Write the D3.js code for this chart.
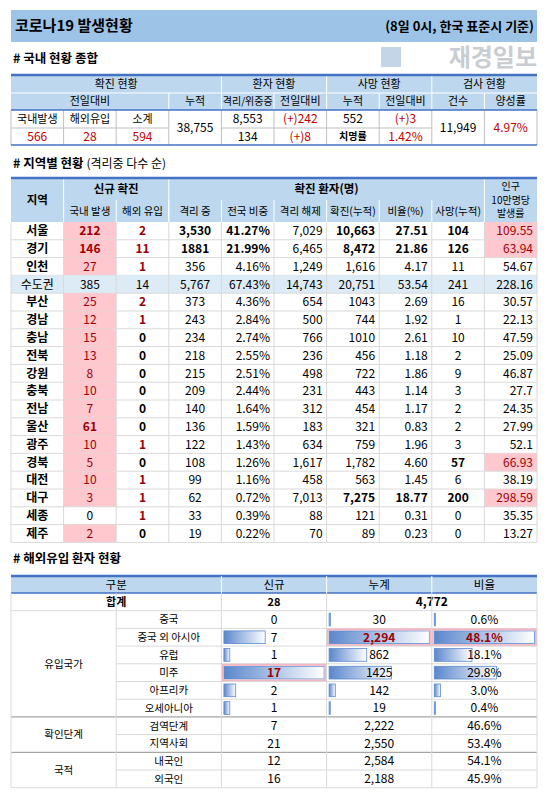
<!DOCTYPE html>
<html><head><meta charset="utf-8">
<script src="https://cdn.jsdelivr.net/npm/d3@7"></script>
<style>body{margin:0;background:#fff}svg{display:block}text{font-family:"Noto Sans CJK KR","Noto Sans",sans-serif}</style>
</head><body><svg id="c" width="548" height="802"></svg>
<script>
// ---- data ----
const summaryHeaders = ["확진 현황","환자 현황","사망 현황","검사 현황"];
const summaryLabels = ["국내발생","해외유입","소계"];
const summaryNew = [566, 28, 594];
const summaryCum = "38,755";
const patients = ["8,553","(+)242","134","(+)8"];
const deathsSum = ["552","(+)3","1.42%"];
const tests = ["11,949","4.97%"];

const regions = ["서울","경기","인천","수도권","부산","경남","충남","전북","강원","충북","전남","울산","광주","경북","대전","대구","세종","제주"];
const local = [212,146,27,385,25,12,15,13,8,10,7,61,10,5,10,3,0,2];
const imported = [2,11,1,14,2,1,0,0,0,0,0,0,1,0,1,1,1,0];
const isolated = ["3,530","1881","356","5,767","373","243","234","218","215","209","140","136","122","108","99","62","33","19"];
const share = ["41.27%","21.99%","4.16%","67.43%","4.36%","2.84%","2.74%","2.55%","2.51%","2.44%","1.64%","1.59%","1.43%","1.26%","1.16%","0.72%","0.39%","0.22%"];
const released = ["7,029","6,465","1,249","14,743","654","500","766","236","498","231","312","183","634","1,617","458","7,013","88","70"];
const cumulative = ["10,663","8,472","1,616","20,751","1043","744","1010","456","722","443","454","321","759","1,782","563","7,275","121","89"];
const ratio = ["27.51","21.86","4.17","53.54","2.69","1.92","2.61","1.18","1.86","1.14","1.17","0.83","1.96","4.60","1.45","18.77","0.31","0.23"];
const deaths = [104,126,11,241,16,1,10,2,9,3,2,2,3,57,6,200,0,0];
const per100k = ["109.55","63.94","54.67","228.16","30.57","22.13","47.59","25.09","46.87","27.7","24.35","27.99","52.1","66.93","38.19","298.59","35.35","13.27"];

const origins = ["중국","중국 외 아시아","유럽","미주","아프리카","오세아니아"];
const originNew = [0,7,1,17,2,1];
const originCum = [30,2294,862,1425,142,19];
const originCumLabel = ["30","2,294","862","1425","142","19"];
const originPct = [0.6,48.1,18.1,29.8,3.0,0.4];
const stages = ["검역단계","지역사회"];
const stageNew = [7,21]; const stageCum = ["2,222","2,550"]; const stagePct = ["46.6%","53.4%"];
const nations = ["내국인","외국인"];
const nationNew = [12,16]; const nationCum = ["2,584","2,188"]; const nationPct = ["54.1%","45.9%"];

// ---- drawing ----
const svg = d3.select("#c");
const L = 11, R = 537;
const HEAD = "#bdd7ee", BLUE = "#4472c4", GRID = "#d9d9d9", PINK = "#ffc7ce", DRED = "#9c0006", RED = "#c00000";
const col = d3.scaleLinear().domain([0,10]).range([L,R]);
const FS = 11;

function cell(x,y,w,h,t,o={}){
  if(o.fill) svg.append("rect").attr("x",x).attr("y",y).attr("width",w).attr("height",h).attr("fill",o.fill);
  if(t===undefined||t===null) return;
  const a=o.align||"middle";
  const tx = a==="end"? x+w-4 : a==="start"? x+4 : x+w/2;
  svg.append("text").attr("x",tx).attr("y",y+h/2).attr("dy","0.36em").attr("text-anchor",a)
    .attr("font-size",o.fs||FS).attr("font-weight",o.bold?"bold":"normal").attr("fill",o.color||"#000").text(t);
}
function hline(x1,x2,y,c=GRID,w=1){svg.append("line").attr("x1",x1).attr("x2",x2).attr("y1",y).attr("y2",y).attr("stroke",c).attr("stroke-width",w);}
function vline(x,y1,y2,c=GRID){svg.append("line").attr("x1",x).attr("x2",x).attr("y1",y1).attr("y2",y2).attr("stroke",c).attr("stroke-width",1);}

// title
svg.append("rect").attr("x",L).attr("y",10).attr("width",R-L).attr("height",32).attr("fill","#9dc3e6");
svg.append("text").attr("x",15).attr("y",31).attr("font-size",15).attr("font-weight","bold").text("코로나19 발생현황");
svg.append("text").attr("x",R-3).attr("y",31).attr("text-anchor","end").attr("font-size",13).attr("font-weight","bold").text("(8일 0시, 한국 표준시 기준)");
svg.append("text").attr("x",R).attr("y",66).attr("text-anchor","end").attr("font-size",24).attr("font-weight","bold").attr("fill","#c9cdd2").text("재경일보");
svg.append("rect").attr("x",381).attr("y",47).attr("width",20).attr("height",20).attr("fill","#c5d5e8");
function heading(y,t,sub){const tx=svg.append("text").attr("x",13).attr("y",y).attr("font-size",12.5).attr("font-weight","bold").text(t);
  if(sub) tx.append("tspan").attr("font-weight","normal").attr("font-size",12).text(sub);}
heading(63,"# 국내 현황 종합");
heading(168,"# 지역별 현황 ","(격리중 다수 순)");
heading(563,"# 해외유입 환자 현황");

// ---- table 1 ----
{
  const y0=75, r1=93, r2=110, r3=128, r4=145;
  svg.append("rect").attr("x",L).attr("y",y0).attr("width",R-L).attr("height",r2-y0).attr("fill",HEAD);
  const spans=[[0,4],[4,6],[6,8],[8,10]];
  spans.forEach((s,i)=>cell(col(s[0]),y0,col(s[1])-col(s[0]),r1-y0,summaryHeaders[i]));
  const sub=[[0,3,"전일대비"],[3,4,"누적"],[4,5,"격리/위중증"],[5,6,"전일대비"],[6,7,"누적"],[7,8,"전일대비"],[8,9,"건수"],[9,10,"양성률"]];
  sub.forEach(s=>cell(col(s[0]),r1,col(s[1])-col(s[0]),r2-r1,s[2],{fs:s[2].length>4?10:FS}));
  hline(L,R,r1,"#fff"); 
  summaryLabels.forEach((t,i)=>cell(col(i),r2,col(1)-col(0),r3-r2,t));
  summaryNew.forEach((v,i)=>cell(col(i),r3,col(1)-col(0),r4-r3,d3.format(",")(v),{color:RED,fs:12}));
  cell(col(3),r2,col(1)-col(0),r4-r2,summaryCum,{fs:12});
  cell(col(4),r2,col(1)-col(0),r3-r2,patients[0],{fs:12});
  cell(col(5),r2,col(1)-col(0),r3-r2,patients[1],{fs:12,color:RED});
  cell(col(4),r3,col(1)-col(0),r4-r3,patients[2],{fs:12});
  cell(col(5),r3,col(1)-col(0),r4-r3,patients[3],{fs:12,color:RED});
  cell(col(6),r2,col(1)-col(0),r3-r2,deathsSum[0],{fs:12});
  cell(col(7),r2,col(1)-col(0),r3-r2,deathsSum[1],{fs:12,color:RED});
  cell(col(6),r3,col(1)-col(0),r4-r3,"치명률",{fs:10,bold:true});
  cell(col(7),r3,col(1)-col(0),r4-r3,deathsSum[2],{fs:12,color:RED});
  cell(col(8),r2,col(1)-col(0),r4-r2,tests[0],{fs:12});
  cell(col(9),r2,col(1)-col(0),r4-r2,tests[1],{fs:12,color:RED});
  [4,6,8].forEach(i=>vline(col(i),y0,r1,"#fff"));
  [3,4,5,6,7,8,9].forEach(i=>vline(col(i),r1,r2,"#fff"));
  [1,2].forEach(i=>vline(col(i),r2,r4,"#bfbfbf"));
  [3,4,5,6,7,8,9].forEach(i=>vline(col(i),r2,r4,"#bfbfbf"));
  vline(L,r2,r4,"#bfbfbf"); vline(R,r2,r4,"#bfbfbf");
  hline(L,col(3),r3,"#bfbfbf"); hline(col(4),col(8),r3,"#bfbfbf");
  hline(L,R,y0,BLUE,2.5); hline(L,R,r2,BLUE,1.5); hline(L,R,r4,BLUE,1.5);
}

// ---- table 2 ----
{
  const y0=178, h1=200, h2=222, rh=17.8;
  const row = d3.scaleLinear().domain([0,1]).range([h2,h2+rh]);
  svg.append("rect").attr("x",L).attr("y",y0).attr("width",R-L).attr("height",h2-y0).attr("fill",HEAD);
  cell(col(0),y0,col(1)-col(0),h2-y0,"지역",{bold:true,fs:11.5});
  cell(col(1),y0,col(3)-col(1),h1-y0,"신규 확진",{bold:true,fs:11.5});
  cell(col(3),y0,col(9)-col(3),h1-y0,"확진 환자(명)",{bold:true,fs:11.5});
  ["국내 발생","해외 유입","격리 중","전국 비중","격리 해제","확진(누적)","비율(%)","사망(누적)"].forEach((t,i)=>cell(col(i+1),h1,col(1)-col(0),h2-h1,t,{fs:10.5}));
  ["인구","10만명당","발생률"].forEach((t,i)=>svg.append("text").attr("x",(col(9)+col(10))/2).attr("y",190+i*13.5).attr("text-anchor","middle").attr("font-size",10).text(t));
  const cw=col(1)-col(0);
  regions.forEach((r,i)=>{
    const y=row(i), metro = r==="수도권";
    if(metro) svg.append("rect").attr("x",L).attr("y",y).attr("width",R-L).attr("height",rh).attr("fill","#ddebf7");
    const big = i<2, dg = r==="대구", gb = r==="경북";
    cell(col(0),y,cw,rh,r,{bold:!metro,fs:12});
    const pinkL = !metro && local[i]>0;
    cell(col(1),y,cw,rh,local[i],{fill:pinkL?PINK:null,color:metro?"#000":(local[i]>0?DRED:"#000"),bold:big||r==="울산",fs:12});
    cell(col(2),y,cw,rh,imported[i],{color:metro?"#000":(imported[i]>0?DRED:"#000"),bold:!metro,fs:12});
    cell(col(3),y,cw,rh,isolated[i],{bold:big,fs:12});
    cell(col(4),y,cw,rh,share[i],{bold:big,fs:12,align:"end"});
    cell(col(5),y,cw,rh,released[i],{fs:12,align:"end"});
    cell(col(6),y,cw,rh,cumulative[i],{bold:big||dg,fs:12,align:"end"});
    cell(col(7),y,cw,rh,ratio[i],{bold:big||dg,fs:12,align:"end"});
    cell(col(8),y,cw,rh,deaths[i],{bold:big||dg||gb,fs:12});
    const pinkP = big||dg||gb;
    cell(col(9),y,cw,rh,per100k[i],{fill:pinkP?PINK:null,color:pinkP?DRED:"#000",fs:12,align:"end"});
    hline(L,R,y+rh,GRID);
  });
  const yb=row(regions.length);
  d3.range(1,10).forEach(i=>vline(col(i),h2,yb,GRID));
  vline(L,h2,yb,GRID); vline(R,h2,yb,GRID);
  [1,2,3,4,5,6,7,8].forEach(i=>vline(col(i),h1,h2,"#fff"));
  [1,3,9].forEach(i=>vline(col(i),y0,h2,"#fff"));
  hline(L,R,y0,BLUE,2.5);
}

// ---- table 3 ----
{
  const y0=576, hb=593, rh=17.7;
  const g1=d3.scaleLinear().domain([0,5]).range([L,R]);
  const xs=[g1(0),g1(1),g1(2),g1(3),g1(4),g1(5)];
  const cw=xs[3]-xs[2];
  svg.append("rect").attr("x",L).attr("y",y0).attr("width",R-L).attr("height",hb-y0).attr("fill",HEAD);
  cell(xs[0],y0,xs[2]-xs[0],hb-y0,"구분",{fs:11.5});
  cell(xs[2],y0,cw,hb-y0,"신규",{fs:11.5});
  cell(xs[3],y0,cw,hb-y0,"누계",{fs:11.5});
  cell(xs[4],y0,cw,hb-y0,"비율",{fs:11.5});
  hline(L,R,y0,BLUE,2.5); hline(L,R,hb,BLUE,1.5);
  [2,3,4].forEach(i=>vline(xs[i],y0,hb,"#fff"));
  const rowY=d3.scaleLinear().domain([0,1]).range([hb,hb+rh]);
  cell(xs[0],hb,xs[2]-xs[0],rh,"합계",{bold:true});
  cell(xs[2],hb,cw,rh,"28",{bold:true});
  cell(xs[3],hb,cw*2,rh,"4,772",{bold:true,fs:12});
  hline(L,R,rowY(1),GRID);
  const defs=svg.append("defs");
  const gr=defs.append("linearGradient").attr("id","bar");
  gr.append("stop").attr("offset","0%").attr("stop-color","#5b87cc");
  gr.append("stop").attr("offset","100%").attr("stop-color","#ffffff");
  const sN=d3.scaleLinear().domain([0,d3.max(originNew)]).range([0,cw-5]);
  const sC=d3.scaleLinear().domain([0,d3.max(originCum)]).range([0,cw-5]);
  const sP=d3.scaleLinear().domain([0,d3.max(originPct)]).range([0,cw-5]);
  function bar(x,y,w){
    if(w<=0) return;
    svg.append("rect").attr("x",x+2.5).attr("y",y+2.5).attr("width",Math.max(w,1.2)).attr("height",rh-5)
      .attr("fill","url(#bar)").attr("stroke","#5b8bd0").attr("stroke-width",0.8);
  }
  function hl(x,y){svg.append("rect").attr("x",x+1).attr("y",y+1).attr("width",cw-2).attr("height",rh-2).attr("fill","none").attr("stroke","#f4b6c2").attr("stroke-width",2);}
  origins.forEach((o,i)=>{
    const y=rowY(i+1);
    cell(xs[1],y,xs[2]-xs[1],rh,o,{fs:10.5});
    bar(xs[2],y,sN(originNew[i])); bar(xs[3],y,sC(originCum[i])); bar(xs[4],y,sP(originPct[i]));
    const mN=originNew[i]===d3.max(originNew), mC=originCum[i]===d3.max(originCum), mP=originPct[i]===d3.max(originPct);
    if(mN) hl(xs[2],y); if(mC) hl(xs[3],y); if(mP) hl(xs[4],y);
    cell(xs[2],y,cw,rh,originNew[i],{fs:12,color:mN?DRED:"#000",bold:mN});
    cell(xs[3],y,cw,rh,originCumLabel[i],{fs:12,color:mC?DRED:"#000",bold:mC});
    cell(xs[4],y,cw,rh,d3.format(".1f")(originPct[i])+"%",{fs:12,color:mP?DRED:"#000",bold:mP});
    if(i<origins.length-1) hline(xs[1],R,y+rh,GRID);
  });
  cell(xs[0],rowY(1),xs[1]-xs[0],rh*6,"유입국가",{fs:10.5});
  const gy1=rowY(7);
  hline(L,R,gy1,"#a6a6a6",1.2);
  const groups=[["확인단계",stages,stageNew,stageCum,stagePct],["국적",nations,nationNew,nationCum,nationPct]];
  groups.forEach((g,gi)=>{
    const base=7+gi*2;
    cell(xs[0],rowY(base),xs[1]-xs[0],rh*2,g[0],{fs:10.5});
    g[1].forEach((t,j)=>{
      const y=rowY(base+j);
      cell(xs[1],y,xs[2]-xs[1],rh,t,{fs:10.5});
      cell(xs[2],y,cw,rh,g[2][j],{fs:12});
      cell(xs[3],y,cw,rh,g[3][j],{fs:12});
      cell(xs[4],y,cw,rh,g[4][j],{fs:12});
    });
    hline(xs[1],R,rowY(base+1),GRID);
    hline(L,R,rowY(base+2),gi===0?"#a6a6a6":GRID,gi===0?1.2:1);
  });
  const yb=rowY(11);
  [0,1,2,3,4,5].forEach(i=>vline(xs[i],hb,yb,GRID));
}
</script></body></html>
